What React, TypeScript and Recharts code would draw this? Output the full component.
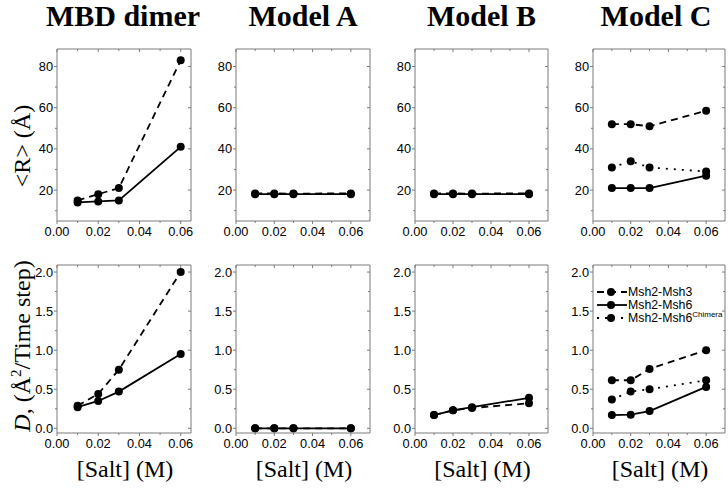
import React from 'react';
import { LineChart, Line, XAxis, YAxis, Legend } from 'recharts';

// ---------- data ----------
const salt = [0.01, 0.02, 0.03, 0.06];

const mbdR_msh3 = [15, 18, 21, 83];
const mbdR_msh6 = [14, 14.5, 15, 41];
const aR_msh3 = [18.4, 18.4, 18.3, 18.4];
const aR_msh6 = [18, 18, 18, 18];
const bR_msh3 = [18.4, 18.4, 18.3, 18.4];
const bR_msh6 = [18, 18, 18, 18];
const cR_msh3 = [52, 52, 51, 58.5];
const cR_msh6 = [21, 21, 21, 27];
const cR_chim = [31, 34, 31, 29];

const mbdD_msh3 = [0.29, 0.44, 0.75, 2.0];
const mbdD_msh6 = [0.27, 0.35, 0.47, 0.95];
const aD_msh3 = [0, 0, 0, 0];
const aD_msh6 = [0, 0, 0, 0];
const bD_msh3 = [0.17, 0.23, 0.26, 0.32];
const bD_msh6 = [0.17, 0.23, 0.27, 0.39];
const cD_msh3 = [0.615, 0.615, 0.76, 1.0];
const cD_msh6 = [0.17, 0.175, 0.22, 0.53];
const cD_chim = [0.37, 0.47, 0.5, 0.615];

const titles = ['MBD dimer', 'Model A', 'Model B', 'Model C'];
const seriesNames = ['Msh2-Msh3', 'Msh2-Msh6', 'Msh2-Msh6'];
const chimeraSup = 'Chimera';

const xMajor = [0, 0.02, 0.04, 0.06];
const xMinor = [0.01, 0.03, 0.05];
const rMajor = [20, 40, 60, 80];
const rMinor = [10, 30, 50, 70];
const dMajor = [0, 0.5, 1.0, 1.5, 2.0];
const dMinor = [0.25, 0.75, 1.25, 1.75];

// ---------- layout ----------
const FRAME = '#7a7a7a';
const COLS = [
  { l: 57, r: 191, xMax: 0.065 },
  { l: 236, r: 370, xMax: 0.07 },
  { l: 415, r: 548, xMax: 0.07 },
  { l: 593, r: 725, xMax: 0.07 },
];
const ROWS = [
  { t: 49, b: 221, domain: [5, 88.5], major: rMajor, minor: rMinor, dec: 0 },
  { t: 265, b: 433, domain: [-0.06, 2.09], major: dMajor, minor: dMinor, dec: 1 },
];
const PADL = 42, PADT = 6, PADR = 6, PADB = 26;
const TICKFONT = '"Liberation Sans", Arial, sans-serif';
const SERIF = '"Liberation Serif", "Times New Roman", serif';

const STYLES: Record<string, string | undefined> = {
  msh3: '7 5',
  msh6: undefined,
  chim: '2 6',
};

const isMajor = (v: number, major: number[]) => major.some((m) => Math.abs(m - v) < 1e-9);

const XTick = (props: any) => {
  const { x, y, payload, side, major } = props;
  const v = payload.value;
  const maj = isMajor(v, major);
  const len = maj ? 3 : 2;
  if (side === 'top') {
    return <line x1={x} x2={x} y1={y} y2={y + len} stroke={FRAME} strokeWidth={1} />;
  }
  return (
    <g>
      <line x1={x} x2={x} y1={y} y2={y + len} stroke={FRAME} strokeWidth={1} />
      {maj && (
        <text x={x} y={y + 15} textAnchor="middle" fontSize={12.8} fontFamily={TICKFONT} fill="#000">
          {v.toFixed(2)}
        </text>
      )}
    </g>
  );
};

const YTick = (props: any) => {
  const { x, y, payload, side, major, dec } = props;
  const v = payload.value;
  const maj = isMajor(v, major);
  const len = maj ? 3 : 2;
  if (side === 'right') {
    return <line x1={x - len} x2={x} y1={y} y2={y} stroke={FRAME} strokeWidth={1} />;
  }
  return (
    <g>
      <line x1={x - len} x2={x} y1={y} y2={y} stroke={FRAME} strokeWidth={1} />
      {maj && (
        <text x={x - 4} y={y + 4.5} textAnchor="end" fontSize={12.8} fontFamily={TICKFONT} fill="#000">
          {v.toFixed(dec)}
        </text>
      )}
    </g>
  );
};

const LegendBox = () => {
  const rows = [
    { key: 'msh3', name: seriesNames[0], sup: '' },
    { key: 'msh6', name: seriesNames[1], sup: '' },
    { key: 'chim', name: seriesNames[2], sup: chimeraSup },
  ];
  return (
    <svg width={132} height={42} style={{ display: 'block', overflow: 'visible' }}>
      {rows.map((r, i) => {
        const cy = 8 + i * 13;
        return (
          <g key={r.key}>
            <line x1={0} x2={30} y1={cy} y2={cy} stroke="#000" strokeWidth={1.8} strokeDasharray={STYLES[r.key]} />
            <circle cx={14} cy={cy} r={4} fill="#000" />
            <text x={31} y={cy + 4.3} fontSize={12.3} fontFamily={TICKFONT} fill="#000">
              {r.name}
              {r.sup && (
                <tspan fontSize={8} dy={-5}>
                  {r.sup}
                </tspan>
              )}
            </text>
          </g>
        );
      })}
    </svg>
  );
};

type Ser = { key: string; values: number[] };

function Panel({ col, row, series, legend }: { col: number; row: number; series: Ser[]; legend?: boolean }) {
  const C = COLS[col];
  const R = ROWS[row];
  const w = C.r - C.l;
  const h = R.b - R.t;
  const data = salt.map((s, i) => {
    const o: any = { salt: s };
    series.forEach((se) => (o[se.key] = se.values[i]));
    return o;
  });
  const xTicks = [...xMajor, ...xMinor].sort((a, b) => a - b);
  const yTicks = [...R.major, ...R.minor].sort((a, b) => a - b);
  return (
    <div style={{ position: 'absolute', left: C.l - PADL, top: R.t - PADT }}>
      <LineChart
        width={w + PADL + PADR}
        height={h + PADT + PADB}
        data={data}
        margin={{ top: PADT - 1, left: PADL - 1, right: PADR - 1, bottom: PADB - 1 }}
      >
        <XAxis
          xAxisId="b"
          type="number"
          dataKey="salt"
          domain={[0, C.xMax]}
          ticks={xTicks}
          interval={0}
          height={1}
          tickSize={0}
          tickMargin={0}
          tickLine={false}
          axisLine={{ stroke: FRAME, strokeWidth: 1 }}
          tick={<XTick side="bottom" major={xMajor} />}
          allowDataOverflow
        />
        <XAxis
          xAxisId="t"
          orientation="top"
          type="number"
          dataKey="salt"
          domain={[0, C.xMax]}
          ticks={xTicks}
          interval={0}
          height={1}
          tickSize={0}
          tickMargin={0}
          tickLine={false}
          axisLine={{ stroke: FRAME, strokeWidth: 1 }}
          tick={<XTick side="top" major={xMajor} />}
          allowDataOverflow
        />
        <YAxis
          yAxisId="l"
          type="number"
          domain={R.domain as [number, number]}
          ticks={yTicks}
          interval={0}
          width={1}
          tickSize={0}
          tickMargin={0}
          tickLine={false}
          axisLine={{ stroke: FRAME, strokeWidth: 1 }}
          tick={<YTick side="left" major={R.major} dec={R.dec} />}
          allowDataOverflow
        />
        <YAxis
          yAxisId="r"
          orientation="right"
          type="number"
          domain={R.domain as [number, number]}
          ticks={yTicks}
          interval={0}
          width={1}
          tickSize={0}
          tickMargin={0}
          tickLine={false}
          axisLine={{ stroke: FRAME, strokeWidth: 1 }}
          tick={<YTick side="right" major={R.major} dec={R.dec} />}
          allowDataOverflow
        />
        {series.map((se) => (
          <Line
            key={se.key}
            xAxisId="b"
            yAxisId="l"
            dataKey={se.key}
            type="linear"
            stroke="#000"
            strokeWidth={1.8}
            strokeDasharray={STYLES[se.key]}
            dot={{ r: 4, fill: '#000', stroke: '#000', strokeWidth: 0 }}
            activeDot={false}
            isAnimationActive={false}
          />
        ))}
        {legend && (
          <Legend
            layout="vertical"
            align="center"
            verticalAlign="middle"
            content={() => <LegendBox />}
            wrapperStyle={{ left: PADL + 4, top: PADT + 19, width: 132, height: 42 }}
          />
        )}
      </LineChart>
    </div>
  );
}

export default function App() {
  const colCenters = COLS.map((c) => (c.l + c.r) / 2);
  return (
    <div style={{ position: 'absolute', left: 0, top: 0, width: 728, height: 489, background: '#fff', overflow: 'hidden' }}>
      <svg width={728} height={489} style={{ position: 'absolute', left: 0, top: 0 }}>
        {titles.map((t, i) => (
          <text
            key={t}
            x={colCenters[i] + (i === 0 ? -1 : i === 3 ? -3 : 0)}
            y={26}
            textAnchor="middle"
            fontFamily={SERIF}
            fontWeight="bold"
            fontSize={30}
            fill="#000"
          >
            {t}
          </text>
        ))}
        <text
          transform="translate(30,146) rotate(-90)"
          textAnchor="middle"
          fontFamily={SERIF}
          fontSize={24}
          fill="#000"
        >
          {'<R> (Å)'}
        </text>
        <text
          transform="translate(30,346) rotate(-90)"
          textAnchor="middle"
          fontFamily={SERIF}
          fontSize={24}
          fill="#000"
        >
          <tspan fontStyle="italic">D</tspan>
          <tspan>, (Å</tspan>
          <tspan fontSize={15} dy={-9}>2</tspan>
          <tspan dy={9}>/Time step)</tspan>
        </text>
        {colCenters.map((cx, i) => (
          <text key={i} x={cx + 1} y={477} textAnchor="middle" fontFamily={SERIF} fontSize={24} fill="#000">
            [Salt] (M)
          </text>
        ))}
      </svg>
      <Panel col={0} row={0} series={[{ key: 'msh3', values: mbdR_msh3 }, { key: 'msh6', values: mbdR_msh6 }]} />
      <Panel col={1} row={0} series={[{ key: 'msh3', values: aR_msh3 }, { key: 'msh6', values: aR_msh6 }]} />
      <Panel col={2} row={0} series={[{ key: 'msh3', values: bR_msh3 }, { key: 'msh6', values: bR_msh6 }]} />
      <Panel
        col={3}
        row={0}
        series={[
          { key: 'msh3', values: cR_msh3 },
          { key: 'msh6', values: cR_msh6 },
          { key: 'chim', values: cR_chim },
        ]}
      />
      <Panel col={0} row={1} series={[{ key: 'msh3', values: mbdD_msh3 }, { key: 'msh6', values: mbdD_msh6 }]} />
      <Panel col={1} row={1} series={[{ key: 'msh3', values: aD_msh3 }, { key: 'msh6', values: aD_msh6 }]} />
      <Panel col={2} row={1} series={[{ key: 'msh3', values: bD_msh3 }, { key: 'msh6', values: bD_msh6 }]} />
      <Panel
        col={3}
        row={1}
        legend
        series={[
          { key: 'msh3', values: cD_msh3 },
          { key: 'msh6', values: cD_msh6 },
          { key: 'chim', values: cD_chim },
        ]}
      />
    </div>
  );
}
